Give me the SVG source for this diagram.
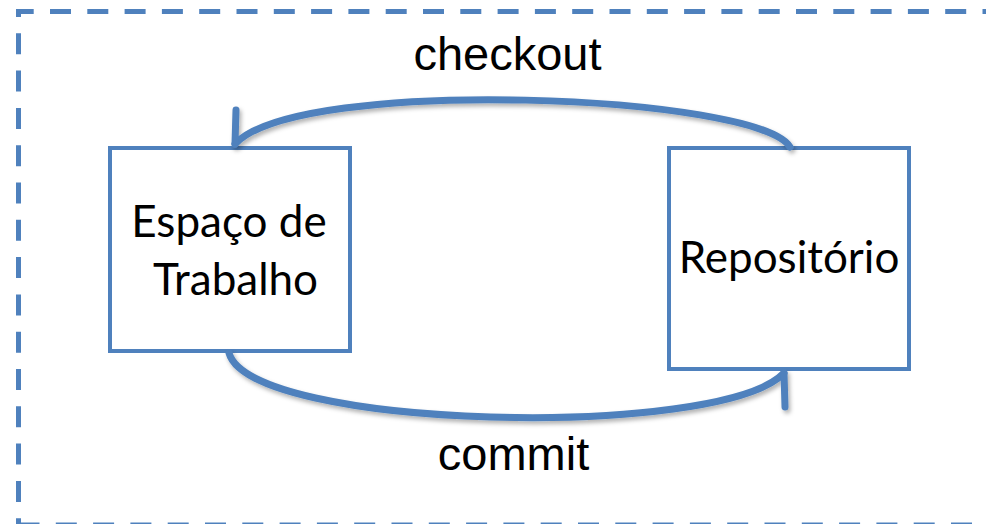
<svg xmlns="http://www.w3.org/2000/svg" width="986" height="524" viewBox="0 0 986 524">
  <style>
    .frame { fill: none; stroke: #4F81BD; stroke-width: 5; stroke-dasharray: 21 16.3; }
    .box { fill: #FFFFFF; stroke: #4F81BD; stroke-width: 4; }
    .flow { fill: none; stroke: #4F81BD; stroke-width: 7; stroke-linecap: round; stroke-linejoin: round; }
    .label { font-family: Lato, "Liberation Sans", sans-serif; font-size: 44px; fill: #000000; text-anchor: middle; }
    .edge-label { font-family: "Liberation Sans", Arial, sans-serif; font-size: 47px; fill: #000000; text-anchor: middle; }
  </style>
  <defs>
    <filter id="soft-shadow" x="-10%" y="-30%" width="120%" height="160%">
      <feDropShadow dx="2" dy="3" stdDeviation="2" flood-color="#000000" flood-opacity="0.3"/>
    </filter>
  </defs>

  <rect width="986" height="524" fill="#FFFFFF"/>

  <!-- dashed system boundary -->
  <g id="boundary">
    <line class="frame" x1="18.5" y1="11.5" x2="1000" y2="11.5" stroke-dashoffset="5.8"/>
    <line class="frame" x1="18.5" y1="11.5" x2="18.5" y2="525" stroke-dashoffset="15.5"/>
    <line class="frame" x1="18.5" y1="525" x2="1000" y2="525" stroke-dashoffset="0"/>
    <rect x="16" y="9" width="5" height="5" fill="#4F81BD"/>
  </g>

  <!-- nodes -->
  <g id="workspace">
    <rect class="box" x="110" y="148" width="240" height="203"/>
    <text class="label" x="229" y="237">Espaço de</text>
    <text class="label" x="235.5" y="295">Trabalho</text>
  </g>

  <g id="repository">
    <rect class="box" x="669" y="148" width="240" height="221"/>
    <text class="label" x="789" y="273">Repositório</text>
  </g>

  <!-- connectors -->
  <g id="connectors" filter="url(#soft-shadow)">
    <g id="checkout">
      <path class="flow" d="M790,147 C760,95 300,75 235,144"/>
      <path class="flow" d="M236,110 L235,144"/>
    </g>
    <g id="commit">
      <path class="flow" d="M229,353 C250,430 720,440 784,373"/>
      <path class="flow" d="M785,407 L784,373"/>
    </g>
  </g>

  <!-- connector labels -->
  <g id="labels">
    <text class="edge-label" x="507.5" y="70">checkout</text>
    <text class="edge-label" x="513.5" y="470">commit</text>
  </g>
</svg>
